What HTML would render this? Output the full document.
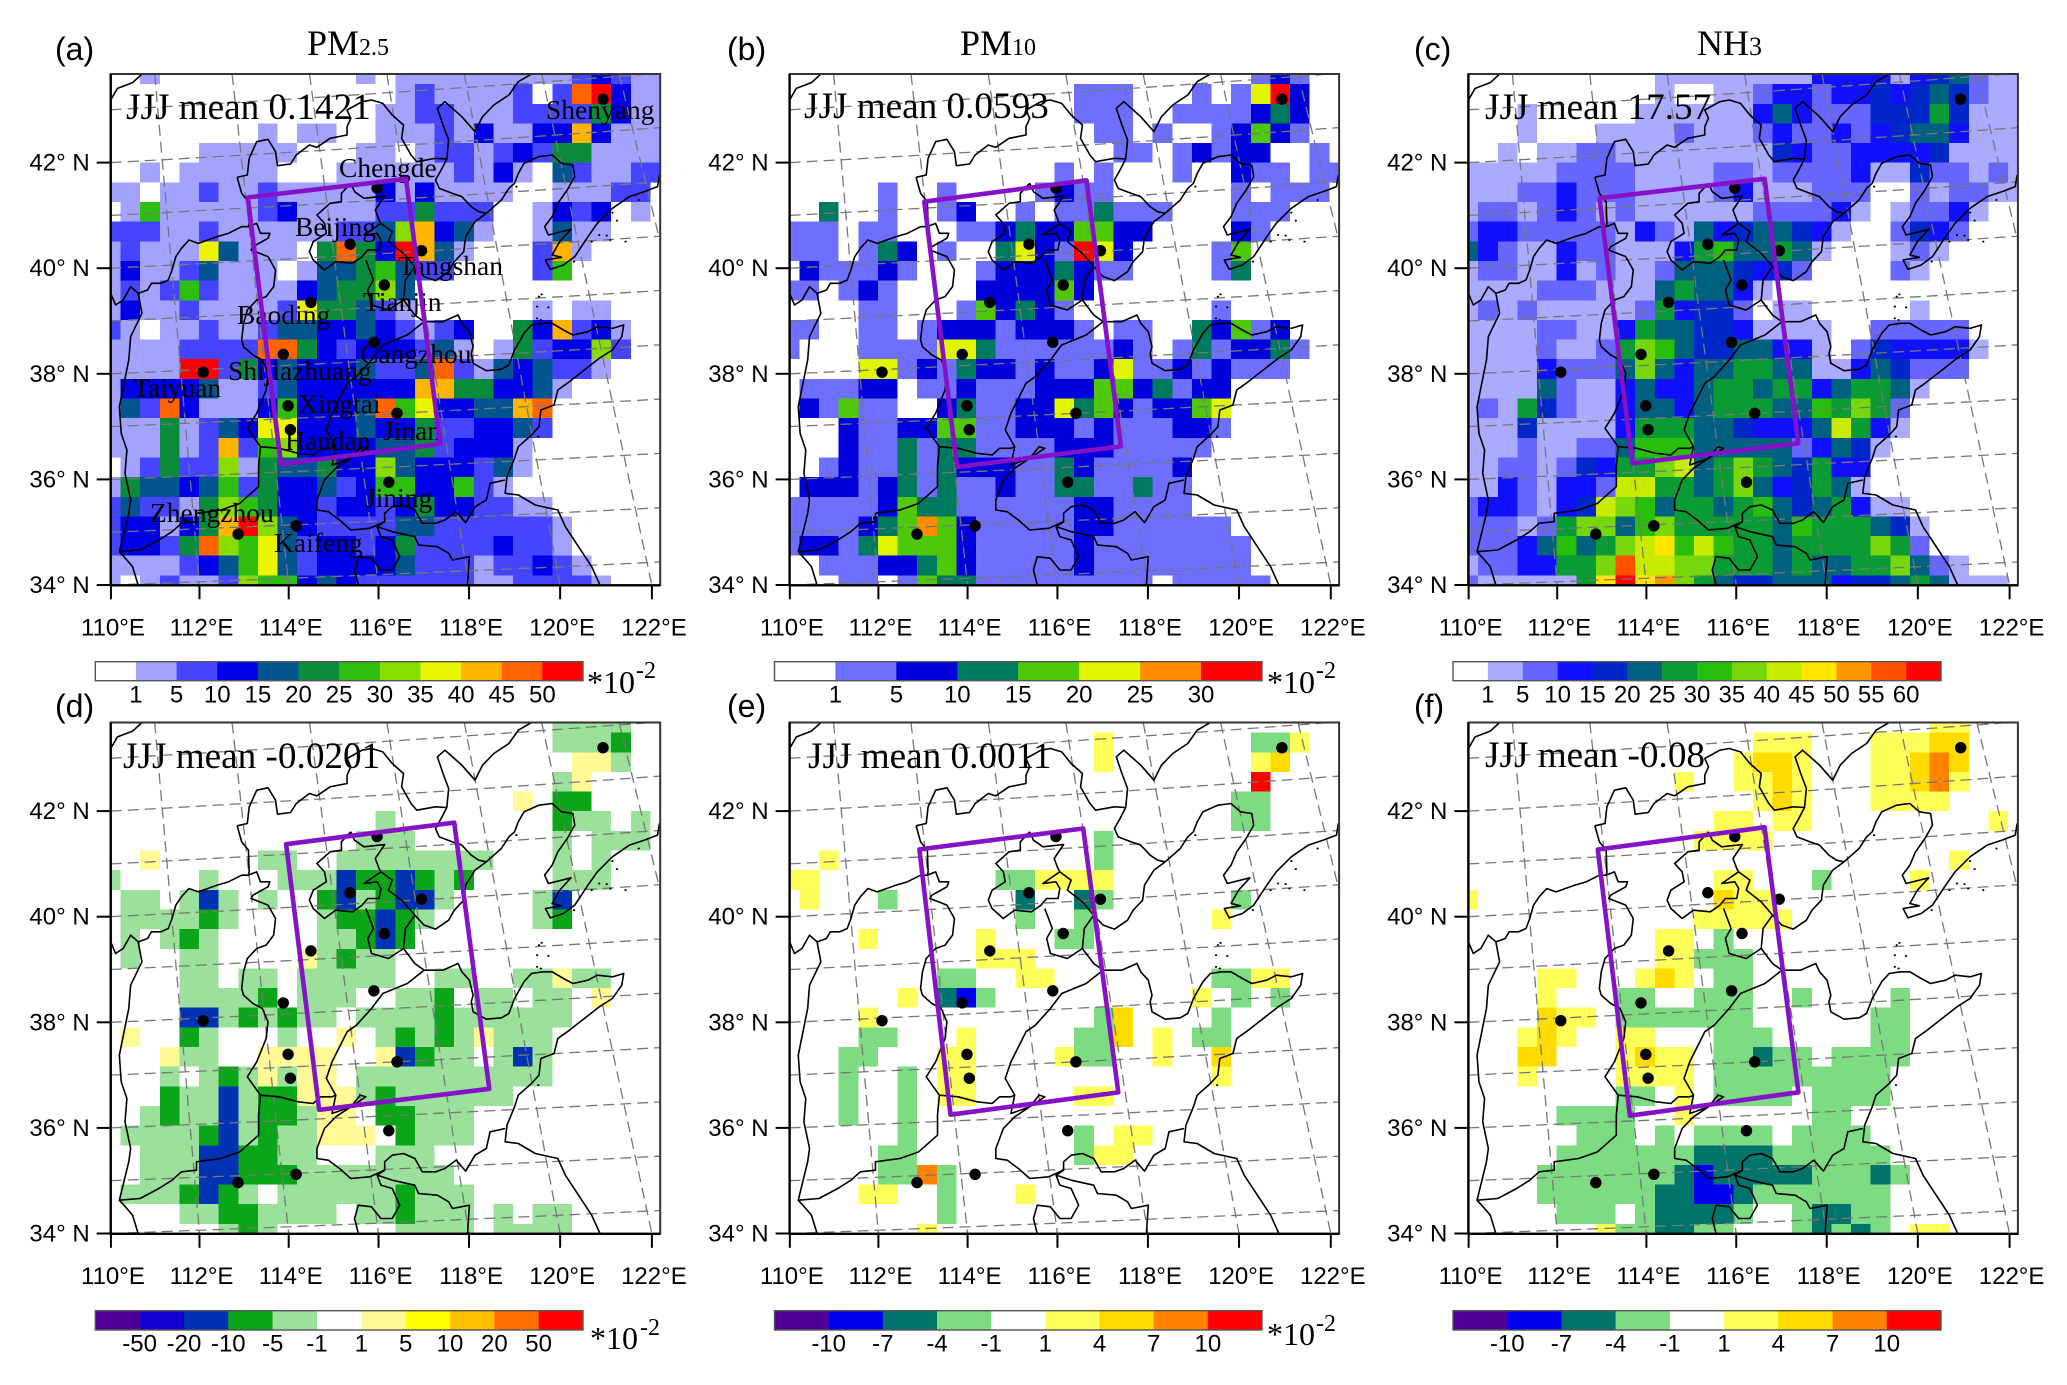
<!DOCTYPE html>
<html lang="en">
<head>
<meta charset="utf-8">
<title>JJJ mean maps: PM2.5, PM10, NH3</title>
<style>
html,body{margin:0;padding:0;background:#fff;}
svg{display:block;}
.serif{font-family:"Liberation Serif",serif;fill:#000;}
.sans{font-family:"Liberation Sans",sans-serif;fill:#000;}
</style>
</head>
<body>
<svg id="figure" xmlns="http://www.w3.org/2000/svg" width="2067" height="1385" viewBox="0 0 2067 1385">
<rect x="0" y="0" width="2067" height="1385" fill="#fff"/>
<g id="city-labels" class="serif" font-size="27.5">
<text x="546" y="119">Shenyang</text>
<text x="339" y="177">Chengde</text>
<text x="295" y="236">Beijing</text>
<text x="398" y="275">Tangshan</text>
<text x="363" y="311">Tianjin</text>
<text x="237" y="324">Baoding</text>
<text x="360" y="363">Cangzhou</text>
<text x="228" y="380">Shijiazhuang</text>
<text x="133" y="397">Taiyuan</text>
<text x="298" y="413">Xingtai</text>
<text x="285" y="450">Handan</text>
<text x="383" y="440">Jinan</text>
<text x="365" y="507">Jining</text>
<text x="150" y="522">Zhengzhou</text>
<text x="274" y="552">Kaifeng</text>
</g>
<g id="panel-text">
<text class="serif" x="307" y="55" font-size="36">PM<tspan font-size="24">2.5</tspan></text>
<text class="serif" x="960" y="55" font-size="36">PM<tspan font-size="24">10</tspan></text>
<text class="serif" x="1697" y="55" font-size="36">NH<tspan font-size="26">3</tspan></text>
<text class="sans" x="55" y="60" font-size="32">(a)</text>
<text class="sans" x="727" y="60" font-size="32">(b)</text>
<text class="sans" x="1414" y="60" font-size="32">(c)</text>
<text class="sans" x="55" y="717" font-size="32">(d)</text>
<text class="sans" x="727" y="717" font-size="32">(e)</text>
<text class="sans" x="1414" y="717" font-size="32">(f)</text>
<text class="serif" x="126" y="119" font-size="37.2">JJJ mean 0.1421</text>
<text class="serif" x="804" y="118" font-size="37.2">JJJ mean 0.0593</text>
<text class="serif" x="1485" y="119" font-size="37.2">JJJ mean 17.57</text>
<text class="serif" x="123" y="768" font-size="37.2">JJJ mean -0.0201</text>
<text class="serif" x="808" y="768" font-size="37.2">JJJ mean 0.0011</text>
<text class="serif" x="1485" y="767" font-size="37.2">JJJ mean -0.08</text>
<text class="serif" x="587" y="693" font-size="32">*10</text>
<text class="serif" x="636" y="678" font-size="24">-2</text>
<text class="serif" x="1267" y="693" font-size="32">*10</text>
<text class="serif" x="1316" y="678" font-size="24">-2</text>
<text class="serif" x="590" y="1349" font-size="32">*10</text>
<text class="serif" x="640" y="1335" font-size="24">-2</text>
<text class="serif" x="1267" y="1345" font-size="32">*10</text>
<text class="serif" x="1316" y="1331" font-size="24">-2</text>
</g>
</svg>
<script>
/* ---------- heatmap class levels (rows north to south, columns west to east) ---------- */
const pm25Levels = [
[0,0,1,0,0,0,0,0,0,0,0,0,0,1,0,1,1,1,1,1,1,1,1,1,2,3,2,1,1],
[0,0,0,0,0,0,0,0,0,0,0,0,0,0,0,1,2,1,1,1,1,2,0,2,10,11,3,1,1],
[0,0,0,0,0,0,0,0,0,0,0,0,0,0,1,1,2,2,1,1,1,2,2,2,2,5,3,1,1],
[0,0,0,0,0,0,0,0,1,0,1,1,0,0,1,1,1,2,1,3,1,1,3,3,9,3,1,1,1],
[0,0,0,0,0,1,1,1,1,1,0,0,0,1,1,0,1,2,2,1,2,3,2,5,5,1,1,1,1],
[0,0,1,0,1,1,1,1,1,0,0,0,1,1,1,1,1,1,2,1,3,1,0,4,2,1,1,2,2],
[1,1,0,1,1,2,1,1,2,1,1,1,1,1,3,1,3,1,1,1,1,0,0,1,1,1,2,2,0],
[0,1,6,1,1,1,1,1,2,3,1,1,1,1,2,2,5,2,2,2,0,0,1,3,2,3,0,1,0],
[2,2,2,1,1,2,1,1,1,1,1,1,2,2,4,7,9,3,4,1,0,0,1,4,1,1,0,0,0],
[1,2,1,1,1,8,4,1,1,1,0,5,10,5,3,11,9,4,1,0,0,0,2,9,1,0,0,0,0],
[1,3,1,1,2,4,1,1,1,0,1,4,4,5,6,4,2,2,0,0,0,0,2,6,0,0,0,0,0],
[1,2,1,2,6,2,1,1,1,1,3,4,5,5,7,4,0,0,0,0,0,0,0,0,0,0,0,0,0],
[1,3,1,1,2,1,1,1,1,2,8,5,5,4,2,1,0,0,0,0,0,0,1,0,1,1,0,0,0],
[2,1,0,1,1,2,1,1,2,4,4,3,3,4,3,2,1,2,3,0,0,5,3,9,2,3,1,0,0],
[1,1,1,1,2,2,2,2,10,10,5,3,2,3,3,3,2,4,1,0,1,5,2,3,3,7,2,0,0],
[1,1,1,1,11,11,2,5,3,4,3,3,3,4,2,2,4,10,2,1,4,3,4,2,2,1,0,0,0],
[1,3,3,3,3,4,1,1,2,4,3,3,3,3,3,3,9,9,5,5,3,3,4,1,0,0,0,0,0],
[1,4,2,10,3,1,1,1,3,6,3,3,3,4,10,6,8,3,3,4,4,9,10,0,0,0,0,0,0],
[1,1,1,5,1,2,4,3,8,8,3,3,3,4,3,3,5,2,2,3,3,4,2,0,0,0,0,0,0],
[1,1,1,5,1,2,9,2,6,7,3,3,3,3,4,4,5,2,3,3,3,1,0,0,0,0,0,0,0],
[0,1,2,5,2,2,7,1,5,4,4,5,3,3,7,4,3,3,3,2,4,1,0,0,0,0,0,0,0],
[1,5,4,4,3,4,6,2,5,3,3,4,2,3,6,6,3,3,6,2,1,0,0,0,0,0,0,0,0],
[2,4,2,2,1,5,7,6,5,3,3,2,3,3,2,3,5,3,3,2,2,1,1,0,0,0,0,0,0],
[2,3,3,1,3,5,9,11,7,4,3,2,2,2,2,4,4,2,2,2,2,2,2,1,0,0,0,0,0],
[2,3,3,2,5,10,7,6,8,4,2,3,3,2,3,5,2,2,2,2,3,2,2,1,0,0,0,0,0],
[1,1,1,1,2,3,4,6,8,4,2,3,3,3,3,4,2,2,2,1,2,2,3,2,1,0,0,0,0],
[1,0,1,2,1,1,2,7,6,6,3,4,3,2,2,2,2,2,2,1,1,2,2,2,2,1,0,0,0]
];
const pm10Levels = [
[0,0,0,0,0,0,0,0,0,0,0,0,0,0,0,0,0,0,0,0,0,0,0,0,1,2,1,0,0],
[0,0,0,0,0,0,0,0,0,0,0,0,0,0,0,1,1,1,0,0,0,1,0,1,5,7,2,0,0],
[0,0,0,0,0,0,0,0,0,0,0,0,0,0,0,1,1,1,0,0,1,1,1,1,2,3,2,0,0],
[0,0,0,0,0,0,0,0,0,0,0,0,0,0,0,0,1,1,0,1,0,0,1,2,4,2,1,0,0],
[0,0,0,0,0,0,0,0,0,0,0,0,0,0,0,0,0,1,1,0,1,2,1,2,2,0,0,1,0],
[0,0,0,0,0,0,0,0,0,0,0,0,0,0,1,0,1,0,0,0,1,0,0,2,1,1,0,1,1],
[0,0,0,0,0,1,0,0,1,0,0,0,0,1,2,1,1,0,0,0,0,0,0,1,0,1,1,1,0],
[0,0,3,0,0,1,0,0,1,2,0,0,1,0,1,1,3,1,1,1,0,0,0,1,1,1,0,0,0],
[1,1,1,0,1,1,0,0,0,1,1,2,3,2,2,4,4,2,2,0,0,0,0,2,1,0,0,0,0],
[1,1,1,0,1,3,2,0,1,0,0,3,5,2,1,7,5,2,0,0,0,0,1,4,0,0,0,0,0],
[0,2,1,1,1,2,1,0,0,0,1,2,2,2,3,2,1,1,0,0,0,0,1,3,0,0,0,0,0],
[1,1,0,1,2,1,0,0,0,0,2,2,2,2,4,2,0,0,0,0,0,0,0,0,0,0,0,0,0],
[0,0,0,0,1,1,0,0,0,1,4,2,3,2,1,0,0,0,0,0,0,0,1,0,0,0,0,0,0],
[1,1,0,0,1,1,0,1,2,2,2,1,2,2,2,1,0,1,1,0,0,3,2,4,1,2,0,0,0],
[1,0,0,0,1,1,1,1,5,5,3,1,1,1,1,1,1,2,1,0,1,3,1,2,2,3,1,0,0],
[0,0,0,0,5,5,1,2,1,3,2,2,1,2,1,1,2,5,1,1,2,1,2,1,1,1,0,0,0],
[0,1,1,1,2,2,0,1,1,2,1,1,1,2,2,2,4,4,2,3,1,2,2,0,0,0,0,0,0],
[0,2,1,4,1,1,0,0,2,3,1,1,2,2,5,3,4,2,1,2,2,4,5,0,0,0,0,0,0],
[0,0,0,2,1,1,2,2,4,4,1,1,2,2,2,1,2,1,1,1,2,2,1,0,0,0,0,0,0],
[0,0,0,2,1,1,3,1,3,3,1,1,1,1,2,2,2,1,1,1,1,1,0,0,0,0,0,0,0],
[0,0,1,2,1,1,3,1,3,2,2,2,1,1,3,2,1,1,1,1,2,0,0,0,0,0,0,0,0],
[0,2,2,2,1,2,3,1,3,1,1,2,1,1,3,3,1,1,3,1,1,0,0,0,0,0,0,0,0],
[1,1,1,1,1,2,4,3,3,1,1,1,1,1,1,2,2,1,1,1,1,0,0,0,0,0,0,0,0],
[1,1,1,1,2,3,4,6,4,2,1,1,1,1,1,2,2,1,1,1,1,1,1,0,0,0,0,0,0],
[1,2,2,1,3,5,4,4,4,2,1,1,1,1,1,2,1,1,1,1,1,1,1,1,0,0,0,0,0],
[0,0,1,1,1,2,2,3,4,2,1,1,1,1,1,2,1,1,1,1,1,1,1,1,0,0,0,0,0],
[0,0,0,1,1,0,1,4,3,3,1,1,1,1,1,1,1,1,1,0,1,1,1,1,1,0,0,0,0]
];
const nh3Levels = [
[0,0,0,0,0,0,0,0,0,0,1,1,1,1,1,1,1,1,3,3,3,3,1,3,4,5,2,1,1],
[0,0,0,0,0,0,0,0,0,0,1,0,0,1,1,2,3,3,2,3,3,4,3,4,5,4,2,1,1],
[0,0,0,1,0,0,0,0,0,1,1,1,1,1,1,3,5,3,2,2,2,4,4,4,6,4,1,1,1],
[0,0,0,1,0,0,0,1,1,1,1,2,1,1,1,2,3,2,2,3,2,3,4,5,5,3,1,1,1],
[0,0,1,0,1,1,2,2,1,1,1,1,1,1,1,1,4,3,2,2,3,3,3,3,4,1,1,1,1],
[1,1,1,1,1,2,2,2,2,1,1,1,1,2,2,1,2,2,2,2,3,1,1,4,2,2,1,2,1],
[1,1,1,2,2,3,2,2,2,1,1,1,1,2,3,1,1,1,2,2,2,0,0,2,1,2,2,1,1],
[1,2,2,1,2,3,2,1,2,1,1,1,1,1,1,2,2,2,2,3,1,0,1,2,2,3,1,0,0],
[2,3,3,2,2,2,2,2,1,3,2,1,5,3,4,5,5,4,3,1,0,0,2,4,3,2,0,0,0],
[5,3,2,1,1,3,2,2,1,1,1,3,6,7,5,5,6,5,1,0,0,0,1,2,1,0,0,0,0],
[1,2,2,1,1,3,1,2,1,1,2,5,5,5,4,3,4,2,0,0,0,0,2,1,0,0,0,0,0],
[1,1,1,1,2,2,2,1,1,1,5,6,5,5,3,1,0,0,0,0,0,0,0,0,0,0,0,0,0],
[1,2,1,2,1,1,1,1,1,2,6,3,4,4,2,0,1,1,0,0,0,0,0,1,0,0,0,0,0],
[1,1,1,1,2,2,1,1,3,6,5,5,4,4,3,1,1,1,1,0,0,2,2,2,2,2,0,0,0],
[1,1,1,1,2,1,1,2,6,8,7,5,4,4,5,5,3,3,1,0,2,4,3,3,3,3,1,0,0],
[1,1,1,1,3,2,2,2,5,8,5,3,5,5,6,6,5,5,1,1,3,5,4,2,2,2,0,0,0],
[1,1,1,1,5,2,1,1,3,5,3,3,5,6,6,5,6,6,3,5,6,6,5,1,0,0,0,0,0],
[1,2,1,6,4,2,1,1,3,5,5,3,5,6,6,6,5,5,7,6,8,6,2,0,0,0,0,0,0],
[1,1,1,4,1,1,1,1,3,6,6,6,5,5,4,3,3,3,5,9,6,3,1,0,0,0,0,0,0],
[1,1,1,2,1,1,2,2,5,7,7,7,5,5,5,5,5,2,3,5,4,1,0,0,0,0,0,0,0],
[1,1,2,2,1,2,4,3,6,6,8,9,5,6,8,6,5,4,6,3,3,0,0,0,0,0,0,0,0],
[1,1,3,2,1,3,3,2,9,9,6,6,5,6,8,5,3,4,6,5,1,0,0,0,0,0,0,0,0],
[2,3,3,2,1,3,4,9,8,7,5,6,6,5,6,7,5,4,5,6,3,1,1,0,0,0,0,0,0],
[2,2,2,1,2,6,8,8,5,7,8,6,6,6,6,6,5,7,6,6,6,5,4,1,0,0,0,0,0],
[2,2,2,3,5,7,5,6,8,9,10,7,9,7,6,6,5,6,6,6,6,8,6,2,0,0,0,0,0],
[1,2,2,3,3,6,6,8,12,9,9,8,8,6,6,6,5,6,5,5,6,6,8,5,2,1,0,0,0],
[2,1,1,1,1,1,6,10,13,10,11,8,6,5,4,4,5,5,5,3,4,4,5,6,5,1,1,1,0]
];
const dPm25Levels = [
[5,5,5,5,5,5,5,5,5,5,5,5,5,5,5,5,5,5,5,5,5,5,5,4,4,4,4,5,5],
[5,5,5,5,5,5,5,5,5,5,5,5,5,5,5,5,5,5,5,5,5,5,5,4,4,4,3,5,5],
[5,5,5,5,5,5,5,5,5,5,5,5,5,5,5,5,5,5,5,5,5,5,5,5,6,6,4,5,5],
[5,5,5,5,5,5,5,5,5,5,5,5,5,5,5,5,5,5,5,5,5,5,5,4,6,5,5,5,5],
[5,5,5,5,5,5,5,5,5,5,5,5,5,5,5,5,5,5,5,5,5,6,5,3,3,5,5,5,5],
[5,5,5,5,5,5,5,5,5,5,5,5,5,5,4,5,5,5,5,5,5,5,5,3,4,4,5,4,5],
[5,5,5,5,5,5,5,5,5,5,5,5,5,4,4,4,5,5,5,5,5,5,5,4,5,4,4,4,5],
[5,5,6,5,5,5,5,5,4,4,5,5,4,4,4,4,4,4,4,4,5,5,5,4,5,4,5,5,5],
[4,5,5,5,5,4,5,5,5,4,4,4,2,3,3,2,3,4,3,5,5,5,5,4,4,4,5,5,5],
[5,4,4,5,4,2,4,5,4,5,5,3,2,4,3,2,2,4,5,5,5,5,4,2,5,5,5,5,5],
[5,4,4,4,4,3,4,5,5,5,5,4,3,3,2,3,4,5,5,5,5,5,4,3,5,5,5,5,5],
[5,4,5,4,3,4,5,5,5,5,5,4,4,3,2,3,5,5,5,5,5,5,5,5,5,5,5,5,5],
[5,4,5,5,4,4,5,5,5,5,6,4,3,4,4,5,5,5,5,5,5,5,5,5,5,5,5,5,5],
[5,5,5,5,4,4,5,4,4,5,4,4,4,4,4,5,5,4,4,5,5,4,4,6,4,4,5,5,5],
[5,5,5,5,4,4,4,4,3,5,4,4,4,5,5,4,4,3,5,4,4,5,4,4,5,6,5,5,5],
[5,5,5,5,2,2,4,3,4,3,4,4,5,4,4,4,4,3,4,4,4,4,4,4,5,5,5,5,5],
[5,6,5,5,3,4,5,5,5,4,5,5,6,5,4,3,4,3,4,6,4,4,4,5,5,5,5,5,5],
[5,5,5,6,4,4,5,5,6,6,6,6,5,5,6,2,3,4,4,5,4,2,4,5,5,5,5,5,5],
[5,5,5,4,5,4,3,4,6,4,6,6,5,4,4,4,4,4,4,4,4,4,4,5,5,5,5,5,5],
[5,5,5,3,4,4,2,4,3,3,6,6,6,4,3,4,4,4,4,4,4,5,5,5,5,5,5,5,5],
[5,5,4,3,4,4,2,4,3,3,4,6,6,5,3,3,4,4,4,5,5,5,5,5,5,5,5,5,5],
[5,4,4,4,4,3,2,4,3,4,4,6,6,6,5,3,4,4,4,5,5,5,5,5,5,5,5,5,5],
[5,5,4,4,4,2,2,3,3,4,4,5,5,5,4,4,4,5,5,5,5,5,5,5,5,5,5,5,5],
[5,5,4,4,4,2,2,3,3,3,4,4,4,4,4,4,4,4,5,5,5,5,5,5,5,5,5,5,5],
[5,4,4,4,3,2,3,4,5,4,4,4,4,4,4,3,4,4,4,5,5,5,5,5,5,5,5,5,5],
[5,5,5,5,4,4,3,3,4,4,4,4,5,4,4,3,4,4,4,5,4,5,4,4,5,5,5,5,5],
[5,5,5,5,5,5,4,3,4,5,5,5,5,5,5,4,4,4,4,5,4,4,4,4,5,5,5,5,5]
];
const dPm10Levels = [
[4,4,4,4,4,4,4,4,4,4,4,4,4,4,4,4,4,4,4,4,4,4,4,4,4,4,4,4,4],
[4,4,4,4,4,4,4,4,4,4,4,4,4,4,4,4,5,4,4,4,4,4,4,4,3,3,5,4,4],
[4,4,4,4,4,4,4,4,4,4,4,4,4,4,4,4,5,4,4,4,4,4,4,4,5,6,4,4,4],
[4,4,4,4,4,4,4,4,4,4,4,4,4,4,4,4,4,4,4,4,4,4,4,4,8,4,4,4,4],
[4,4,4,4,4,4,4,4,4,4,4,4,4,4,4,4,4,4,4,4,4,4,4,3,3,4,4,4,4],
[4,4,4,4,4,4,4,4,4,4,4,4,4,4,4,4,4,4,4,4,4,4,4,3,3,4,4,4,4],
[4,4,4,4,4,4,4,4,4,4,4,4,4,4,4,4,3,4,4,4,4,4,4,4,4,4,4,4,4],
[4,4,5,4,4,4,4,4,4,4,4,4,4,4,4,4,3,4,4,4,4,4,4,4,4,4,4,4,4],
[5,5,4,4,4,4,4,4,4,4,4,3,3,5,5,5,5,4,4,4,4,4,4,4,4,4,4,4,4],
[4,5,4,4,4,3,4,4,4,4,4,4,2,4,4,2,3,4,4,4,4,4,4,3,4,4,4,4,4],
[4,4,4,4,4,4,4,4,4,4,4,4,3,4,4,3,4,4,4,4,4,4,5,4,4,4,4,4,4],
[4,4,4,4,5,4,4,4,4,4,5,4,4,4,3,3,4,4,4,4,4,4,4,4,4,4,4,4,4],
[4,4,4,4,4,4,4,4,4,4,5,5,5,4,4,4,4,4,4,4,4,4,4,4,4,4,4,4,4],
[4,4,4,4,4,4,4,4,3,3,4,4,5,5,4,4,4,4,4,4,4,4,3,3,5,5,4,4,4],
[4,4,4,4,4,4,5,4,2,1,3,4,4,4,4,4,4,4,4,4,4,5,4,3,4,3,4,4,4],
[4,4,4,4,5,4,4,4,4,4,4,4,4,4,4,4,3,6,4,4,4,4,3,4,4,4,4,4,4],
[4,4,4,4,3,3,4,4,4,5,4,4,4,4,4,3,3,6,4,5,4,3,3,4,4,4,4,4,4],
[4,4,4,3,3,4,4,4,5,5,4,4,4,4,5,3,3,4,4,5,4,4,6,4,4,4,4,4,4],
[4,4,4,3,4,4,3,4,5,5,4,4,4,4,4,4,4,4,4,4,4,4,5,4,4,4,4,4,4],
[4,4,4,3,4,4,3,4,5,5,4,4,4,4,4,5,5,4,4,4,4,4,4,4,4,4,4,4,4],
[4,4,4,3,4,4,3,4,4,4,4,4,4,4,4,4,4,4,4,4,4,4,4,4,4,4,4,4,4],
[4,4,4,4,4,4,3,4,4,4,4,4,4,4,4,3,4,5,5,4,4,4,4,4,4,4,4,4,4],
[4,4,4,4,4,3,3,4,4,4,4,4,4,4,4,3,5,5,4,4,4,4,4,4,4,4,4,4,4],
[4,4,4,4,4,3,3,7,3,4,4,4,4,4,4,4,4,4,4,4,4,4,4,4,4,4,4,4,4],
[4,4,4,4,5,5,4,4,3,4,4,4,5,4,4,4,4,4,4,4,4,4,4,4,4,4,4,4,4],
[4,4,4,4,4,4,4,4,3,4,4,4,4,4,4,4,4,4,4,4,4,4,4,4,4,4,4,4,4],
[4,4,4,4,4,4,4,5,4,4,4,4,4,4,4,4,4,4,4,4,4,4,4,4,4,4,4,4,4]
];
const dNh3Levels = [
[4,4,4,4,4,4,4,4,4,4,4,4,4,4,4,4,4,4,4,4,4,4,4,4,5,5,4,4,4],
[4,4,4,4,4,4,4,4,4,4,4,4,4,4,4,5,5,5,4,4,4,5,5,5,6,6,4,4,4],
[4,4,4,4,4,4,4,4,4,4,4,4,4,4,5,6,6,5,4,4,4,5,5,6,7,6,4,4,4],
[4,4,4,4,4,4,4,4,4,4,4,5,4,4,5,5,6,5,4,4,4,5,5,6,7,5,4,4,4],
[4,4,4,4,4,4,4,4,4,4,4,4,4,4,4,5,6,5,4,4,4,5,5,5,5,4,4,4,4],
[4,4,4,4,4,4,4,4,4,4,4,4,4,5,5,4,5,5,4,4,4,4,4,4,4,4,4,5,4],
[4,4,4,4,4,4,4,4,4,4,4,4,5,5,5,5,4,4,4,4,4,4,4,4,4,4,4,4,4],
[4,4,4,4,4,4,4,4,4,4,4,4,4,4,4,4,4,4,4,4,4,4,4,4,4,5,4,4,4],
[4,4,4,4,4,4,4,4,4,4,4,4,4,5,5,4,4,4,3,4,4,4,4,5,4,4,4,4,4],
[5,4,4,4,4,4,4,4,4,4,4,4,4,6,5,5,4,4,4,4,4,4,4,4,4,4,4,4,4],
[4,4,4,4,4,4,4,4,4,4,4,4,5,5,5,5,5,4,4,4,4,4,4,4,4,4,4,4,4],
[4,4,4,4,4,4,4,4,4,4,5,5,4,3,4,4,4,4,4,4,4,4,4,4,4,4,4,4,4],
[4,4,4,4,4,4,4,4,4,4,5,5,3,3,3,4,4,4,4,4,4,4,4,4,4,4,4,4,4],
[4,4,4,4,5,5,4,4,4,5,6,5,4,3,3,4,4,4,4,4,4,4,4,4,4,4,4,4,4],
[4,4,4,4,5,4,4,4,3,3,4,4,3,3,3,4,4,3,4,4,4,4,3,4,4,4,4,4,4],
[4,4,4,4,6,5,5,4,3,3,3,3,3,3,3,4,4,4,4,4,4,3,3,4,4,4,4,4,4],
[4,4,4,5,6,5,4,4,5,5,4,4,4,3,3,3,4,4,4,4,4,3,3,4,4,4,4,4,4],
[4,4,4,6,6,4,4,4,5,6,5,5,4,3,3,2,3,3,4,3,3,3,3,4,4,4,4,4,4],
[4,4,4,5,4,4,4,4,5,5,5,5,4,3,3,3,3,3,3,3,3,3,4,4,4,4,4,4,4],
[4,4,4,4,4,4,4,4,3,3,4,5,4,3,3,3,3,4,3,3,3,3,4,4,4,4,4,4,4],
[4,4,4,4,4,3,3,3,3,4,4,5,4,4,4,4,4,4,3,3,4,4,4,4,4,4,4,4,4],
[4,4,4,4,4,4,3,3,3,4,3,4,3,3,3,3,4,3,3,3,3,4,4,4,4,4,4,4,4],
[4,4,4,4,4,3,3,3,3,3,3,3,2,2,2,2,3,3,3,3,3,3,4,4,4,4,4,4,4],
[4,4,4,4,3,3,3,3,3,3,3,2,1,2,2,2,2,2,3,3,3,2,3,4,4,4,4,4,4],
[4,4,4,4,3,3,3,3,3,3,2,2,1,1,2,3,3,3,3,3,3,3,4,4,4,4,4,4,4],
[4,4,4,4,4,3,3,3,4,3,2,2,2,2,3,4,4,3,2,2,3,3,4,4,4,4,4,4,4],
[4,4,4,4,4,4,4,5,3,3,2,2,3,3,4,4,4,3,2,3,2,3,4,5,5,4,4,4,4]
];

/* ---------- colour classes and colour-bar labels ---------- */
const pm25Colors = ['#ffffff','#a3a3ff','#4545ff','#0000e6','#04558f','#0a8c3c','#2dbe0f','#8adc00','#ebf500','#ffb400','#ff6400','#ff0000'];
const pm10Colors = ['#ffffff','#6e6eff','#0000dc','#007a5e','#50c80a','#e1f500','#ff8c00','#ff0000'];
const nh3Colors = ['#ffffff','#aaaaff','#6666ff','#1010ff','#0028c8','#00607f','#0b9b35','#28be0a','#78d70a','#c8eb00','#ffe600','#ff9600','#ff5000','#ff0000'];
const dPm25Colors = ['#500096','#1400d2','#0032b4','#0aa519','#9be19b','#ffffff','#fffa96','#ffff00','#ffbe00','#ff6e00','#ff0000'];
const dGasColors = ['#500096','#0000f0','#00736b','#7ddc82','#ffffff','#ffff5a','#ffdc00','#ff8200','#ff0000'];
const pm25Ticks = ['1','5','10','15','20','25','30','35','40','45','50'];
const pm10Ticks = ['1','5','10','15','20','25','30'];
const nh3Ticks = ['1','5','10','15','20','25','30','35','40','45','50','55','60'];
const dPm25Ticks = ['-50','-20','-10','-5','-1','1','5','10','20','50'];
const dGasTicks = ['-10','-7','-4','-1','1','4','7','10'];

/* ---------- axes ---------- */
const lonTicks = [110,112,114,116,118,120,122];
const latTicks = [42,40,38,36,34];
const meridians = [112,114,116,118,120,122,124];
const parallels = [34,35,36,37,38,39,40,41,42,43];

/* ---------- cities and study-region corners, degrees ---------- */
const cityLons = [123.43,117.30,116.43,118.15,117.12,115.29,116.67,114.48,112.53,114.45,114.44,116.97,116.55,112.98,114.32];
const cityLats = [42.60,41.23,40.21,40.01,39.41,39.16,38.35,38.21,37.95,37.24,36.79,37.00,35.72,34.87,34.98];
const boxLonsA = [114.05,118.06,117.86,114.13];
const boxLatsA = [41.20,41.37,36.39,36.15];
const boxLonsB = [113.98,118.09,117.89,114.06];
const boxLatsB = [41.12,41.34,36.34,36.10];
const boxLonsC = [113.90,118.08,117.87,113.99];
const boxLatsC = [41.19,41.37,36.40,36.17];
const boxLonsD = [115.01,119.28,119.00,115.02];
const boxLatsD = [41.19,41.40,36.41,36.17];
const boxLonsE = [113.86,118.01,117.84,113.91];
const boxLatsE = [41.14,41.35,36.39,36.12];
const boxLonsF = [113.85,118.08,117.87,113.92];
const boxLatsF = [41.14,41.37,36.39,36.10];

/* ---------- basemap outlines (traced base-map geometry) ---------- */
const mapOutlines = [
"52,120 70,85 110,68 135,42",
"388,352 415,345 420,295 440,245 470,238 490,275 495,317 530,312 545,285 580,255 600,262 635,235 680,225 680,200 690,175 680,150 720,125 745,120 775,130 800,165 830,195 825,235 850,285 865,305 915,295 945,297",
"1170,42 1135,65 1110,105 1070,135 1040,170 1020,215 985,170 965,150 940,125 920,145 935,195 950,240 945,297 930,330 915,360 925,385 960,400 985,410 1010,440 1030,455 1050,460",
"1050,460 1090,420 1110,385 1125,370 1135,340 1150,310 1190,290 1225,285 1250,310 1280,315 1285,350 1265,390 1240,430 1225,470 1205,500 1215,525 1275,508 1245,545 1225,585 1250,592 1207,600 1220,628 1255,615 1285,590 1320,530 1345,490 1385,445 1430,410 1470,395 1505,380 1510,345",
"1050,460 1020,485 995,530 990,575 965,605 950,635 915,662 885,650 860,620 835,660 830,720 860,765 885,785 935,785 975,765 985,790 1005,815 1015,860 1010,880 1015,910 1050,932 1090,928 1110,915 1125,870 1140,840 1150,820 1170,795 1200,790 1225,790 1255,810 1280,825 1320,815 1345,800 1385,805 1415,795 1410,830 1385,870 1350,895 1305,935 1265,970 1240,990 1230,1035 1195,1050 1190,1100 1170,1125 1135,1160 1125,1195 1105,1250 1100,1300 1135,1305 1180,1335 1240,1350 1260,1400 1295,1460 1330,1520 1352,1575",
"885,785 840,825 775,855 745,900 705,950 680,970 640,1060 625,1110 650,1160 640,1215 690,1195 730,1165 715,1160 690,1195 650,1225 620,1260 600,1320 600,1350 630,1355 660,1380 690,1410 740,1405 780,1385 780,1360 800,1340 830,1335 860,1350 880,1390 915,1390 940,1380 970,1355 995,1388 1020,1340 1050,1320 1060,1270 1100,1260",
"450,1160 500,1165 550,1180 590,1185 610,1165 640,1165 650,1160",
"52,700 65,735 85,720 105,680 125,700 150,690 160,670 185,670 205,660 215,630 225,590 240,565 260,540 285,550 310,540 335,530 365,520 400,500 418,500",
"388,352 400,400 418,425 420,490 418,500 440,490 450,520 475,520 470,535 430,560 425,570 470,590 490,630 485,680 465,710 440,720 415,750 405,790 400,840 405,860 430,885 455,900 470,940 465,990 440,1060 415,1105 450,1160 445,1220 445,1280 395,1330 345,1350 280,1360 280,1385 240,1390 215,1415 180,1440 130,1470 75,1475",
"125,700 135,760 105,830 100,900 75,1040 80,1120 95,1170 90,1240 105,1320 100,1360 75,1475 95,1500 110,1520 125,1575",
"690,370 665,400 665,425 635,430 600,465 620,490 625,520 590,545 580,575 590,600 620,630 650,605 695,610 720,590 735,570 765,570 770,540 760,520 725,525 770,490",
"690,370 700,395 725,415 780,408 755,450 765,480 770,490 800,515 790,545 830,580 860,620",
"730,600 750,660 735,690 745,735 790,750 830,720",
"780,1385 760,1400 770,1430 800,1440 820,1490 800,1530 770,1530 745,1495 710,1490 700,1530 710,1575",
"760,1400 800,1415 860,1430 870,1455 920,1460 950,1480 960,1500 1005,1490 1000,1575"
];
const islandSpots = ["1130,380","1190,710","1197,703","1185,740","1215,742","1185,775","1195,780","1385,458","1397,482","1330,545","1350,525","1370,527","1420,545","1380,540","1188,1130","1455,420","1283,605"];

/* ---------- panel layout ---------- */
const panelConfigs = [
 {id:'a',left:110.7,top:74,levels:pm25Levels,colors:pm25Colors,ticks:pm25Ticks,boxLons:boxLonsA,boxLats:boxLatsA,barLeft:95.3,barRight:583,barTop:661.7,barBottom:680.7,tickBase:702.7},
 {id:'b',left:789.6,top:74,levels:pm10Levels,colors:pm10Colors,ticks:pm10Ticks,boxLons:boxLonsB,boxLats:boxLatsB,barLeft:774.5,barRight:1262,barTop:661.7,barBottom:680.7,tickBase:702.7},
 {id:'c',left:1468.4,top:74,levels:nh3Levels,colors:nh3Colors,ticks:nh3Ticks,boxLons:boxLonsC,boxLats:boxLatsC,barLeft:1453,barRight:1941,barTop:661.7,barBottom:680.7,tickBase:702.7},
 {id:'d',left:110.7,top:722.5,levels:dPm25Levels,colors:dPm25Colors,ticks:dPm25Ticks,boxLons:boxLonsD,boxLats:boxLatsD,barLeft:95.3,barRight:583,barTop:1310.7,barBottom:1330,tickBase:1351.7},
 {id:'e',left:789.6,top:722.5,levels:dPm10Levels,colors:dGasColors,ticks:dGasTicks,boxLons:boxLonsE,boxLats:boxLatsE,barLeft:774.5,barRight:1262,barTop:1310.7,barBottom:1330,tickBase:1351.7},
 {id:'f',left:1468.4,top:722.5,levels:dNh3Levels,colors:dGasColors,ticks:dGasTicks,boxLons:boxLonsF,boxLats:boxLatsF,barLeft:1453,barRight:1941,barTop:1310.7,barBottom:1330,tickBase:1351.7}
];

const PW = 549.5, PH = 511.3, CW = PW / 28, CH = 19.65;
const NS = 'http://www.w3.org/2000/svg';
const svg = document.getElementById('figure');
const cityLayer = document.getElementById('city-labels');

function mk(tag, attrs, parent) {
  const el = document.createElementNS(NS, tag);
  for (const k in attrs) el.setAttribute(k, attrs[k]);
  if (parent) parent.appendChild(el);
  return el;
}
/* axis functions */
function colX(i) { return (i - 0.5) * CW; }
function rowY(j) { return 0.3 + (j - 0.5) * CH; }
function meridianX(lon, s) {
  const d = lon - 112;
  const top = 44 + 38.7 * d;
  const bottom = 88.8 + 44.44 * d + 0.08 * d * d;
  return top + (bottom - top) * s;
}
function parallelY(lat, t) {
  const d = lat - 34;
  return 511 - 52.8 * d - (23 + 1.5 * d) * (0.85 * t + 0.15 * t * t);
}
function project(lon, lat) {
  let ry = parallelY(lat, 0.4), rx = 0;
  for (let k = 0; k < 5; k++) {
    rx = meridianX(lon, ry / 511);
    ry = parallelY(lat, rx / 549);
  }
  return [rx, ry];
}

panelConfigs.forEach(function (p) {
  /* clip */
  const clip = mk('clipPath', {id: 'clip-' + p.id}, svg);
  mk('rect', {x: p.left, y: p.top, width: PW, height: PH}, clip);

  /* layer below city labels */
  const under = mk('g', {'clip-path': 'url(#clip-' + p.id + ')'});
  
  
  svg.insertBefore(under, cityLayer);

  /* heatmap cells */
  const cells = mk('g', {'shape-rendering': 'crispEdges'}, under);
  
  
  p.levels.forEach(function (row, j) {
    row.forEach(function (level, i) {
      const c = mk('rect', {
        x: (p.left + colX(i)).toFixed(2),
        y: (p.top + rowY(j)).toFixed(2),
        width: (CW + 0.3).toFixed(2),
        height: (CH + 0.3).toFixed(2),
        fill: p.colors[level]
      }, cells);
      
      
    });
  });

  /* graticule */
  const grid = mk('g', {fill: 'none', stroke: '#777777', 'stroke-width': 1.3, 'stroke-dasharray': '11 6'}, under);
  
  
  meridians.forEach(function (lon) {
    const line = mk('line', {
      x1: p.left + meridianX(lon, 0), y1: p.top,
      x2: p.left + meridianX(lon, 1), y2: p.top + PH
    }, grid);
    
    
  });
  parallels.forEach(function (lat) {
    const pts = [];
    for (let k = 0; k <= 20; k++) {
      const t = k / 20;
      pts.push((p.left + t * PW).toFixed(1) + ',' + (p.top + parallelY(lat, t)).toFixed(1));
    }
    const line = mk('polyline', {points: pts.join(' ')}, grid);
    
    
  });

  /* outlines */
  const base = mk('g', {
    fill: 'none', stroke: '#000', 'stroke-linejoin': 'round',
    transform: 'translate(' + p.left + ' ' + p.top + ') scale(' + (1 / 2.657) + ' ' + (1 / 3) + ') translate(-52 -42)'
  }, under);
  
  
  mapOutlines.forEach(function (pts) {
    const line = mk('polyline', {points: pts, 'vector-effect': 'non-scaling-stroke', 'stroke-width': 1.6}, base);
    
    
  });
  islandSpots.forEach(function (pt) {
    const xy = pt.split(',');
    const dot = mk('ellipse', {cx: xy[0], cy: xy[1], rx: 3, ry: 3, fill: '#000', stroke: 'none'}, base);
    
    
  });

  /* city dots */
  cityLons.forEach(function (lon, k) {
    const xy = project(lon, cityLats[k]);
    const dot = mk('circle', {cx: (p.left + xy[0]).toFixed(1), cy: (p.top + xy[1]).toFixed(1), r: 5.7, fill: '#000'}, under);
    
    
  });

  /* layer above city labels */
  const over = mk('g', {}, svg);
  
  

  /* study box */
  const corners = p.boxLons.map(function (lon, k) {
    const xy = project(lon, p.boxLats[k]);
    return (p.left + xy[0]).toFixed(1) + ',' + (p.top + xy[1]).toFixed(1);
  });
  const box = mk('polygon', {points: corners.join(' '), fill: 'none', stroke: '#8512c8', 'stroke-width': 4.6, 'stroke-linejoin': 'round'}, over);
  
  

  /* frame */
  const frame = mk('rect', {x: p.left, y: p.top, width: PW, height: PH, fill: 'none', stroke: '#333', 'stroke-width': 2}, over);
  
  
  const leftAxis = mk('line', {x1: p.left, x2: p.left, y1: p.top, y2: p.top + PH, stroke: '#000', 'stroke-width': 2.4}, over);
  
  
  const bottomAxis = mk('line', {x1: p.left, x2: p.left + PW, y1: p.top + PH, y2: p.top + PH, stroke: '#000', 'stroke-width': 2.4}, over);
  
  

  /* x ticks */
  lonTicks.forEach(function (lon) {
    const x = p.left + meridianX(lon, 1);
    const tick = mk('line', {x1: x, x2: x, y1: p.top + PH, y2: p.top + PH + 14, stroke: '#000', 'stroke-width': 2}, over);
    
    
    const label = mk('text', {x: x + 2, y: p.top + PH + 50, 'text-anchor': 'middle', class: 'sans', 'font-size': 24}, over);
    label.textContent = lon + '°E';
    
    
  });
  /* y ticks */
  latTicks.forEach(function (lat) {
    const y = p.top + parallelY(lat, 0);
    const tick = mk('line', {x1: p.left - 14, x2: p.left, y1: y, y2: y, stroke: '#000', 'stroke-width': 2}, over);
    
    
    const label = mk('text', {x: p.left - 21, y: y + 8, 'text-anchor': 'end', class: 'sans', 'font-size': 24}, over);
    label.textContent = lat + '° N';
    
    
  });

  /* colour bar */
  const bw = (p.barRight - p.barLeft) / p.colors.length;
  p.colors.forEach(function (color, k) {
    const seg = mk('rect', {x: p.barLeft + k * bw, y: p.barTop, width: bw + 0.2, height: p.barBottom - p.barTop, fill: color}, over);
    
    
  });
  const outline = mk('rect', {x: p.barLeft, y: p.barTop, width: p.barRight - p.barLeft, height: p.barBottom - p.barTop, fill: 'none', stroke: '#555', 'stroke-width': 1.4}, over);
  
  
  p.ticks.forEach(function (text, k) {
    const label = mk('text', {x: p.barLeft + (k + 1) * bw, y: p.tickBase, 'text-anchor': 'middle', class: 'sans', 'font-size': 24}, over);
    label.textContent = text;
    
    
  });
});
</script>
</body>
</html>
